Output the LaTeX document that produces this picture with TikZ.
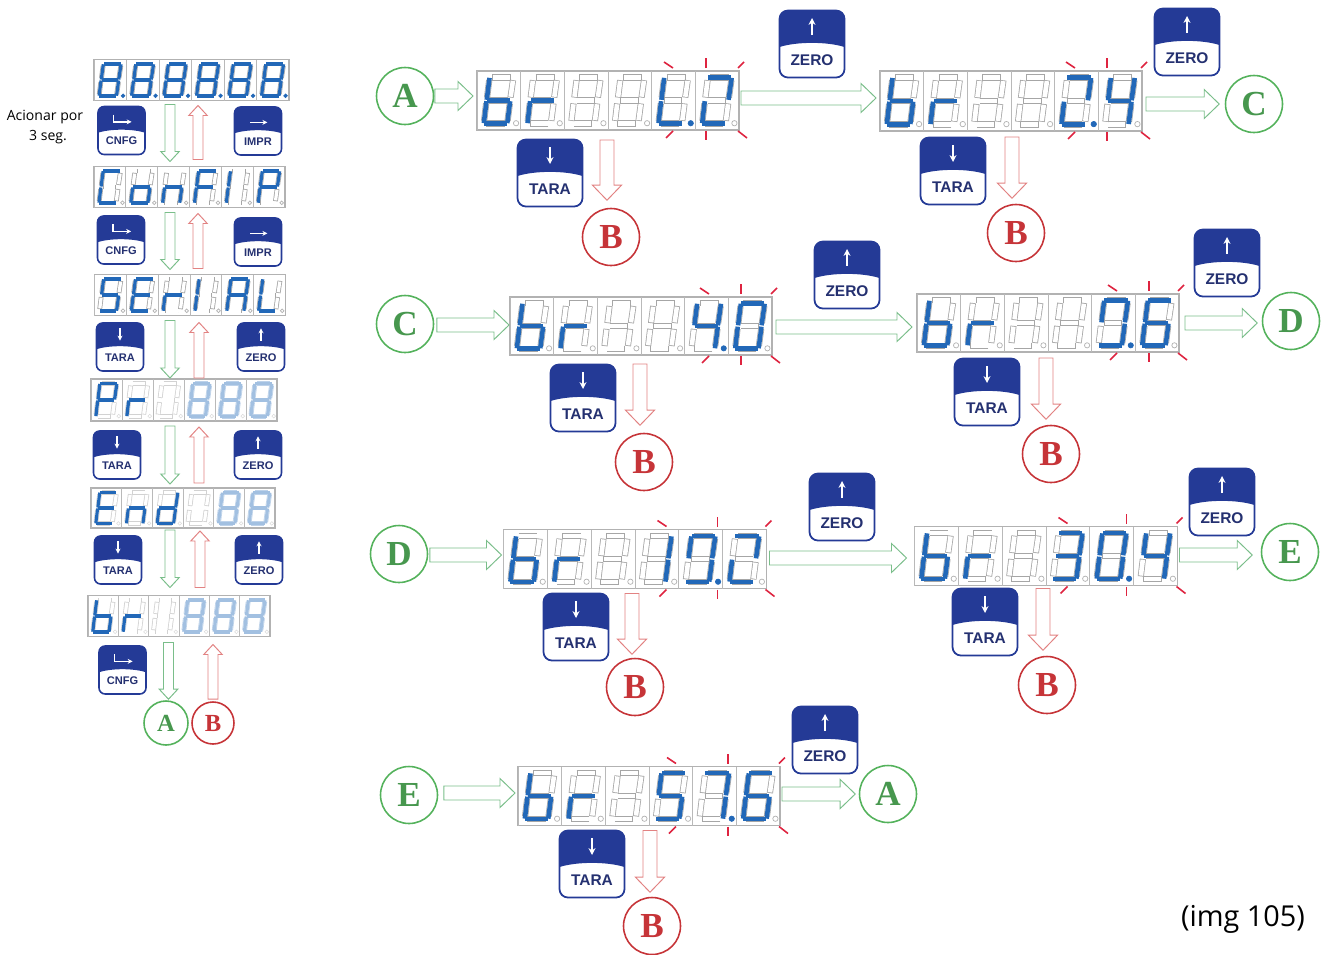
\documentclass[tikz,border=0pt]{standalone}
\usepackage{fontspec}
\setmainfont{Open Sans}
\setsansfont{Liberation Sans}
\newfontfamily\capfont{Liberation Serif}
\usetikzlibrary{arrows.meta,calc,positioning}
\definecolor{clcd}{RGB}{34,104,184}
\definecolor{ckey}{RGB}{36,58,150}
\definecolor{ckeyt}{RGB}{36,48,112}
\definecolor{cgo}{RGB}{122,190,138}
\definecolor{cback}{RGB}{226,130,130}
\definecolor{cgreen}{RGB}{84,178,92}
\definecolor{cred}{RGB}{198,52,56}
\definecolor{ctick}{RGB}{222,36,64}
% lit and unlit colours of a digit, one pair per display mode
\colorlet{segon}{clcd}      \colorlet{offon}{gray!70}
\colorlet{segdp}{clcd}      \colorlet{offdp}{gray!70}
\colorlet{segln}{clcd}      \colorlet{offln}{gray!35}
\colorlet{segpl}{clcd!42}   \colorlet{offpl}{clcd!30}
\colorlet{segdm}{gray!35}   \colorlet{offdm}{gray!35}
\tikzset{
  lcdframe/.style={rectangle,draw=gray!60,line width=0.7pt,fill=white,inner sep=0pt,outer sep=0pt},
  lcdline/.style={draw=gray!55,line width=0.4pt},
  doton/.style={draw=gray!60,fill=white,line width=0.4pt},
  dotdp/.style={draw=clcd,fill=clcd,line width=0.4pt},
  dotln/.style={draw=gray!28,fill=white,line width=0.3pt},
  dotpl/.style={draw=gray!28,fill=white,line width=0.3pt},
  dotdm/.style={draw=gray!28,fill=white,line width=0.3pt},
  flash/.style={draw=ctick,line width=0.9pt},
  % block arrow as a polygon: half shaft / half head / head length
  flow/.style args={#1/#2/#3}{fill=white,line width=0.55pt,to path={
    (\tikztostart) coordinate (fa) (\tikztotarget) coordinate (fb)
    ($(fa)!#1!90:(fb)$) -- ($(fb)!#3!(fa)!#1!90:(fb)$) -- ($(fb)!#3!(fa)!#2!90:(fb)$) -- (fb)
    -- ($(fb)!#3!(fa)!#2!-90:(fb)$) -- ($(fb)!#3!(fa)!#1!-90:(fb)$) -- ($(fa)!#1!-90:(fb)$) -- cycle}},
  gbig/.style={flow=0.14cm/0.29cm/0.3cm,draw=cgo},
  rbig/.style={flow=0.14cm/0.29cm/0.3cm,draw=cback},
  gsmall/.style={flow=0.1cm/0.185cm/0.2cm,draw=cgo},
  rsmall/.style={flow=0.1cm/0.185cm/0.2cm,draw=cback},
  roundgo/.style={circle,draw=cgreen,text=cgreen!85!black,line width=0.9pt,inner sep=0pt,
    minimum size=1.14cm,font=\fontsize{20}{20}\selectfont\capfont\bfseries},
  roundback/.style={roundgo,draw=cred,text=cred},
  smallgo/.style={roundgo,minimum size=0.88cm,font=\fontsize{14}{14}\selectfont\capfont\bfseries},
  smallback/.style={roundback,minimum size=0.84cm,font=\fontsize{14}{14}\selectfont\capfont\bfseries},
  % scale, icon path: the dark cap goes on after the node
  keybtn/.style 2 args={rectangle,draw=ckey,inner sep=0pt,outer sep=0pt,text=ckeyt,
    append after command={\pgfextra{
      \fill[ckey,shift={(\tikzlastnode.center)},scale=#1] (-32.5,3) [rounded corners=#1*4.8pt]
        -- (-32.5,-33.5) -- (32.5,-33.5) [sharp corners] -- (32.5,3)
        .. controls (15,-2.5) and (-15,-2.5) .. (-32.5,3) -- cycle;
      \draw[white,shift={(\tikzlastnode.center)},scale=#1,line width=#1*1.3pt,
        -{Stealth[length=0pt 3 0,width=0pt 3 0]}] #2;}}},
  bigkey/.style={keybtn={1}{#1},minimum width=1.3cm,text height=1.1cm,text depth=0.24cm,
    rounded corners=4.8pt,line width=1pt,font=\fontsize{8.8}{10}\selectfont\sffamily\bfseries},
  smallkey/.style={keybtn={0.72}{#1},minimum width=0.94cm,text height=0.76cm,text depth=0.2cm,
    rounded corners=3.5pt,line width=0.9pt,font=\fontsize{6.3}{8}\selectfont\sffamily\bfseries},
  note/.style={align=center,inner sep=0pt,font=\fontsize{8}{11}\selectfont}
}
\newcommand{\iconup}{(0,-9) -- (0,-26)}
\newcommand{\icondown}{(0,-26) -- (0,-9)}
\newcommand{\iconright}{(-11,-12) -- (13,-12)}
\newcommand{\iconbent}{(-11,-22) -- (-11,-12) -- (14,-12)}
% segment name / end points, in a cell of size 1 x 1
\newcommand{\seglist}{a/.345/.11/.775/.11,b/.825/.155/.768/.45,c/.752/.55/.70/.845,d/.635/.89/.21/.89,
  e/.163/.845/.21/.55,f/.23/.45/.28/.155,g/.28/.5/.70/.5}
\newcommand{\dgnone}{}
\newcommand{\dgeight}{a,b,c,d,e,f,g}
\newcommand{\dgzero}{a,b,c,d,e,f}
\newcommand{\dgone}{b,c}
\newcommand{\dgtwo}{a,b,d,e}
\newcommand{\dgthree}{a,b,c,d,g}
\newcommand{\dgfour}{b,c,f,g}
\newcommand{\dgfive}{a,c,d,f,g}
\newcommand{\dgsix}{a,c,d,e,f,g}
\newcommand{\dgseven}{a,b,c}
\newcommand{\dgnine}{a,b,c,d,f}
\newcommand{\dgA}{a,b,c,e,f,g}
\newcommand{\dgb}{c,d,e,f,g}
\newcommand{\dgC}{a,d,e,f}
\newcommand{\dgd}{b,c,d,e,g}
\newcommand{\dgE}{a,d,e,f,g}
\newcommand{\dgF}{a,e,f,g}
\newcommand{\dgI}{e,f}
\newcommand{\dgL}{d,e,f}
\newcommand{\dgn}{c,e,g}
\newcommand{\dgo}{c,d,e,g}
\newcommand{\dgP}{a,b,e,f,g}
\newcommand{\dgr}{e,g}
% name, centre x, centre y, width, height, digits as letter/mode
\newcommand{\lcd}[6]{
  \node[lcdframe,minimum width=#4*0.02cm,minimum height=#5*0.02cm] (#1) at (#2,#3) {};
  \pgfmathsetlengthmacro\segwd{0.078*#5*0.02cm}
  \pgfmathsetlengthmacro\dotr{0.045*#5*0.02cm}
  \pgfmathsetlengthmacro\cellw{#4/6*0.02cm}
  \pgfmathsetlengthmacro\cellh{#5*0.02cm}
  \foreach \ch/\sty [count=\i from 0] in {#6} {
    \begin{scope}[shift={($(#1.north west)+(\i*#4/6,0)$)},x=\cellw,y=-\cellh]
      \draw[lcdline] (0,0) -- (0,1);
      \foreach \s/\xa/\ya/\xb/\yb in \seglist {
        \coordinate (\s1) at (\xa,\ya);
        \coordinate (\s2) at (\xb,\yb);
        \draw[draw=off\sty,line width=\segwd+0.9pt] (\s1) -- (\s2);
        \draw[white,line width=\segwd,shorten >=0.45pt,shorten <=0.45pt] (\s1) -- (\s2);
      }
      \edef\litlist{\ch}
      \ifx\litlist\empty\else
        \foreach \s in \litlist {\draw[draw=seg\sty,line width=\segwd,line cap=rect] (\s1) -- (\s2);}
      \fi
      \draw[dot\sty] (0.895,0.885) circle[radius=\dotr];
    \end{scope}
  }
}
% red ticks round the blinking digits
\newcommand{\blink}[3]{
  \draw[flash] ($(#1.north east)+(#2,-3)$) -- +(-9,-6);
  \draw[flash] ($(#1.south east)+(#2,1)$) -- +(-7,7);
  \draw[flash] ($(#1.north east)+(#3,-3)$) -- +(0,-10);
  \draw[flash] ($(#1.south east)+(#3,1)$) -- +(0,9);
  \draw[flash] ($(#1.north east)+(-1,-3)$) -- +(6,-6);
  \draw[flash] ($(#1.south east)+(-1,1)$) -- +(9,7);
}
\begin{document}
\begin{tikzpicture}[x=0.02cm,y=-0.02cm]
  \useasboundingbox (0,0) rectangle (1325,954);
  % left column: the menu
  \node[note] (hold) at (45,127) {Acionar por\\\hspace*{3.4pt}3 seg.};
  \lcd{menua}{191.5}{80}{195}{41}{\dgeight/dp,\dgeight/dp,\dgeight/dp,\dgeight/dp,\dgeight/dp,\dgeight/dp}
  \lcd{menub}{189.5}{187}{191}{41}{\dgC/on,\dgo/on,\dgn/on,\dgF/on,\dgI/on,\dgP/on}
  \lcd{menuc}{190}{295}{191}{41}{\dgfive/on,\dgE/on,\dgr/on,\dgI/on,\dgA/on,\dgL/on}
  \lcd{menud}{184}{400}{186}{42}{\dgP/ln,\dgr/ln,\dgnone/dm,\dgeight/pl,\dgeight/pl,\dgeight/pl}
  \lcd{menue}{183}{508}{184}{40}{\dgE/ln,\dgn/ln,\dgd/ln,\dgnone/dm,\dgeight/pl,\dgeight/pl}
  \lcd{menuf}{179}{616}{182}{41}{\dgb/ln,\dgr/ln,\dgnone/dm,\dgeight/pl,\dgeight/pl,\dgeight/pl}
  \node[smallkey=\iconbent] (cnfga) at (121.5,130.5) {CNFG};
  \node[smallkey=\iconright] (impra) at (258,131) {IMPR};
  \node[smallkey=\iconbent] (cnfgb) at (121,240) {CNFG};
  \node[smallkey=\iconright] (imprb) at (258,242) {IMPR};
  \node[smallkey=\icondown] (taraa) at (120,347) {TARA};
  \node[smallkey=\iconup] (zeroa) at (261,347) {ZERO};
  \node[smallkey=\icondown] (tarab) at (117,455) {TARA};
  \node[smallkey=\iconup] (zerob) at (258,455) {ZERO};
  \node[smallkey=\icondown] (tarac) at (118,560) {TARA};
  \node[smallkey=\iconup] (zeroc) at (259,560) {ZERO};
  \node[smallkey=\iconbent] (cnfgc) at (122.5,670) {CNFG};
  \node[smallgo] (menuA) at (166,723) {A};
  \node[smallback] (menuB) at (213,723) {B};
  \draw[gsmall] ($(menua.south)+(-21.5,4)$) to ($(menub.north)+(-19.5,-5)$);
  \draw[rsmall] ($(menub.north)+(8.5,-7)$) to ($(menua.south)+(6.5,5)$);
  \draw[gsmall] ($(menub.south)+(-19.5,5)$) to ($(menuc.north)+(-20,-5)$);
  \draw[rsmall] ($(menuc.north)+(8,-6)$) to ($(menub.south)+(8.5,6)$);
  \draw[gsmall] ($(menuc.south)+(-20,5)$) to ($(menud.north)+(-14,-1)$);
  \draw[rsmall] ($(menud.north)+(15,-1)$) to ($(menuc.south)+(9,7)$);
  \draw[gsmall] ($(menud.south)+(-14,5)$) to ($(menue.north)+(-13,-4)$);
  \draw[rsmall] ($(menue.north)+(16,-5)$) to ($(menud.south)+(15,6)$);
  \draw[gsmall] ($(menue.south)+(-13,2)$) to ($(menuf.north)+(-9,-8)$);
  \draw[rsmall] ($(menuf.north)+(21,-8)$) to ($(menue.south)+(17,3)$);
  \draw[gsmall] ($(menuf.south)+(-10.5,6)$) to ($(menuA.north)+(2.5,-1)$);
  \draw[rsmall] ($(menuB.north)+(0,-2)$) to ($(menuf.south)+(34,8)$);
  % baud rates
  \lcd{baudb}{608}{100.5}{262}{59}{\dgb/on,\dgr/on,\dgnone/on,\dgnone/on,\dgL/dp,\dgtwo/on}
  \lcd{baudc}{1011}{101}{262}{60}{\dgb/on,\dgr/on,\dgnone/on,\dgnone/on,\dgtwo/dp,\dgfour/on}
  \lcd{baudd}{641}{326}{262}{58}{\dgb/on,\dgr/on,\dgnone/on,\dgnone/on,\dgfour/dp,\dgzero/on}
  \lcd{baude}{1048}{323}{262}{58}{\dgb/on,\dgr/on,\dgnone/on,\dgnone/on,\dgnine/dp,\dgsix/on}
  \lcd{baudf}{635}{559}{263}{59}{\dgb/on,\dgr/on,\dgnone/on,\dgone/on,\dgnine/dp,\dgtwo/on}
  \lcd{baudg}{1046}{556}{263}{59}{\dgb/on,\dgr/on,\dgnone/on,\dgthree/on,\dgzero/dp,\dgfour/on}
  \lcd{baudh}{649}{796}{262}{59}{\dgb/on,\dgr/on,\dgnone/on,\dgfive/on,\dgseven/dp,\dgsix/on}
  \blink{baudb}{-66}{-33}
  \blink{baudc}{-67}{-35}
  \blink{baudd}{-63}{-31}
  \blink{baude}{-62}{-30}
  \blink{baudf}{-100}{-49}
  \blink{baudg}{-110}{-51}
  \blink{baudh}{-104}{-52}
  \node[bigkey=\iconup] (zerob1) at (812,44) {ZERO};
  \node[bigkey=\iconup] (zeroc1) at (1187,42) {ZERO};
  \node[bigkey=\iconup] (zerod1) at (847,275) {ZERO};
  \node[bigkey=\iconup] (zeroe1) at (1227,263) {ZERO};
  \node[bigkey=\iconup] (zerof1) at (842,507) {ZERO};
  \node[bigkey=\iconup] (zerog1) at (1222,502) {ZERO};
  \node[bigkey=\iconup] (zeroh1) at (825,740) {ZERO};
  \node[bigkey=\icondown] (tarab1) at (550,173) {TARA};
  \node[bigkey=\icondown] (tarac1) at (953,171) {TARA};
  \node[bigkey=\icondown] (tarad1) at (583,398) {TARA};
  \node[bigkey=\icondown] (tarae1) at (987,392) {TARA};
  \node[bigkey=\icondown] (taraf1) at (576,627) {TARA};
  \node[bigkey=\icondown] (tarag1) at (985,622) {TARA};
  \node[bigkey=\icondown] (tarah1) at (592,864) {TARA};
  \node[roundgo] (inA) at (405,96) {A};
  \node[roundgo] (outC) at (1254,104) {C};
  \node[roundgo] (inC) at (405,324) {C};
  \node[roundgo] (outD) at (1291,321) {D};
  \node[roundgo] (inD) at (399,554) {D};
  \node[roundgo] (outE) at (1290,552) {E};
  \node[roundgo] (inE) at (409,795) {E};
  \node[roundgo] (outA) at (888,794) {A};
  \node[roundback] (backb) at (611,237) {B};
  \node[roundback] (backc) at (1016,233) {B};
  \node[roundback] (backd) at (644,462) {B};
  \node[roundback] (backe) at (1051,454) {B};
  \node[roundback] (backf) at (635,687) {B};
  \node[roundback] (backg) at (1047,685) {B};
  \node[roundback] (backh) at (652,926) {B};
  \draw[gbig] ($(inA.east)+(0.5,0)$) to ($(baudb.west)+(-4,-4.5)$);
  \draw[gbig] ($(baudb.east)+(2,-2.5)$) to ($(baudc.west)+(-4,-3)$);
  \draw[gbig] ($(baudc.east)+(4,3)$) to ($(outC.west)+(-5.5,0)$);
  \draw[gbig] ($(inC.east)+(2.5,1)$) to ($(baudd.west)+(-1,-1)$);
  \draw[gbig] ($(baudd.east)+(4,1)$) to ($(baude.west)+(-5,4)$);
  \draw[gbig] ($(baude.east)+(6,0)$) to ($(outD.west)+(-4.5,2)$);
  \draw[gbig] ($(inD.east)+(1.5,1)$) to ($(baudf.west)+(-2,-4)$);
  \draw[gbig] ($(baudf.east)+(3,-1)$) to ($(baudg.west)+(-8,2)$);
  \draw[gbig] ($(baudg.east)+(2,-1)$) to ($(outE.west)+(-8.5,3)$);
  \draw[gbig] ($(inE.east)+(5.5,-2)$) to ($(baudh.west)+(-3,-3)$);
  \draw[gbig] ($(baudh.east)+(2,-2)$) to ($(outA.west)+(-3.5,0)$);
  \draw[rbig] ($(baudb.south)+(-1,10)$) to ($(backb.north)+(-4,-7.5)$);
  \draw[rbig] ($(baudc.south)+(1,6)$) to ($(backc.north)+(-4,-5.5)$);
  \draw[rbig] ($(baudd.south)+(-1,9)$) to ($(backd.north)+(-4,-7.5)$);
  \draw[rbig] ($(baude.south)+(-2,6)$) to ($(backe.north)+(-5,-5.5)$);
  \draw[rbig] ($(baudf.south)+(-3,5)$) to ($(backf.north)+(-3,-3.5)$);
  \draw[rbig] ($(baudg.south)+(-3,3)$) to ($(backg.north)+(-4,-5.5)$);
  \draw[rbig] ($(baudh.south)+(1,5)$) to ($(backh.north)+(-2,-4.5)$);
  \node[note,font=\fontsize{16.4}{18}\selectfont] (imgno) at (1243,919) {(img 105)};
\end{tikzpicture}
\end{document}
